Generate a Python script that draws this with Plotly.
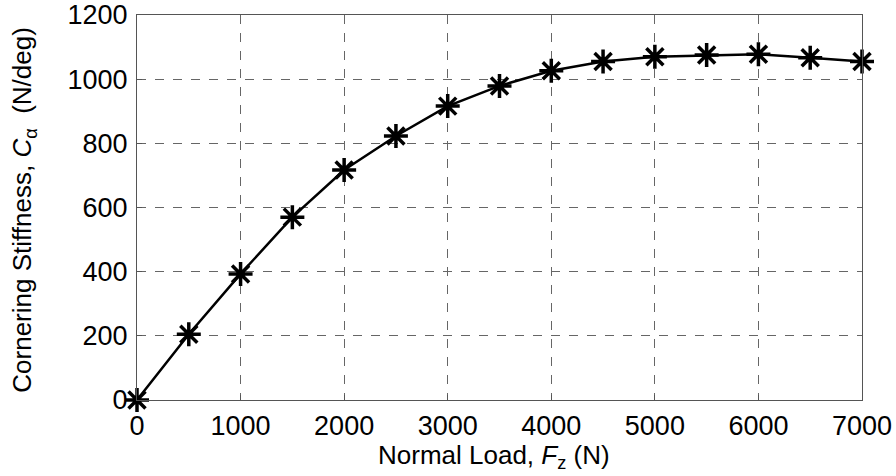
import plotly.graph_objects as go

# Normal load (N) and measured cornering stiffness (N/deg)
normal_load = [0, 500, 1000, 1500, 2000, 2500, 3000, 3500, 4000, 4500, 5000, 5500, 6000, 6500, 7000]
cornering_stiffness = [0, 205, 393, 570, 717, 823, 916, 979, 1026, 1055, 1070, 1075, 1078, 1067, 1055]

x_ticks = [0, 1000, 2000, 3000, 4000, 5000, 6000, 7000]
y_ticks = [0, 200, 400, 600, 800, 1000, 1200]

x_title = "Normal Load, <i>F</i><sub>z</sub> (N)"
y_title = "Cornering Stiffness, <i>C</i><sub>α</sub>  (N/deg)"

font_family = "Liberation Sans, Arial, sans-serif"

fig = go.Figure()
fig.add_trace(go.Scatter(
    x=normal_load,
    y=cornering_stiffness,
    mode="lines+markers",
    line=dict(color="black", width=2.5),
    marker=dict(symbol="asterisk-open", size=20, line=dict(color="black", width=3.5)),
    showlegend=False,
    cliponaxis=False,
))

axis_common = dict(
    showline=True, linecolor="#555", linewidth=1, mirror=True,
    showgrid=True, gridcolor="#666", griddash="dash", gridwidth=1,
    zeroline=False, automargin=False,
    ticks="inside", ticklen=5, tickcolor="#555",
    tickfont=dict(family=font_family, size=27, color="black"),
)

fig.update_layout(
    width=896, height=476,
    margin=dict(l=137, r=34, t=15, b=76),
    paper_bgcolor="white", plot_bgcolor="white",
    font=dict(family=font_family, color="black"),
    xaxis=dict(range=[0, 7000], tickvals=x_ticks, ticklabelstandoff=2, **axis_common),
    yaxis=dict(range=[0, 1200], tickvals=y_ticks, ticklabelstandoff=3, **axis_common),
    annotations=[
        dict(text=x_title, xref="paper", yref="paper", x=0.493, y=-0.146,
             xanchor="center", yanchor="middle", showarrow=False,
             font=dict(size=26, family=font_family, color="black")),
        dict(text=y_title, xref="paper", yref="paper", x=-0.156, y=0.494,
             xanchor="center", yanchor="middle", textangle=-90, showarrow=False,
             font=dict(size=26, family=font_family, color="black")),
    ],
)

fig.write_html("out.html")
